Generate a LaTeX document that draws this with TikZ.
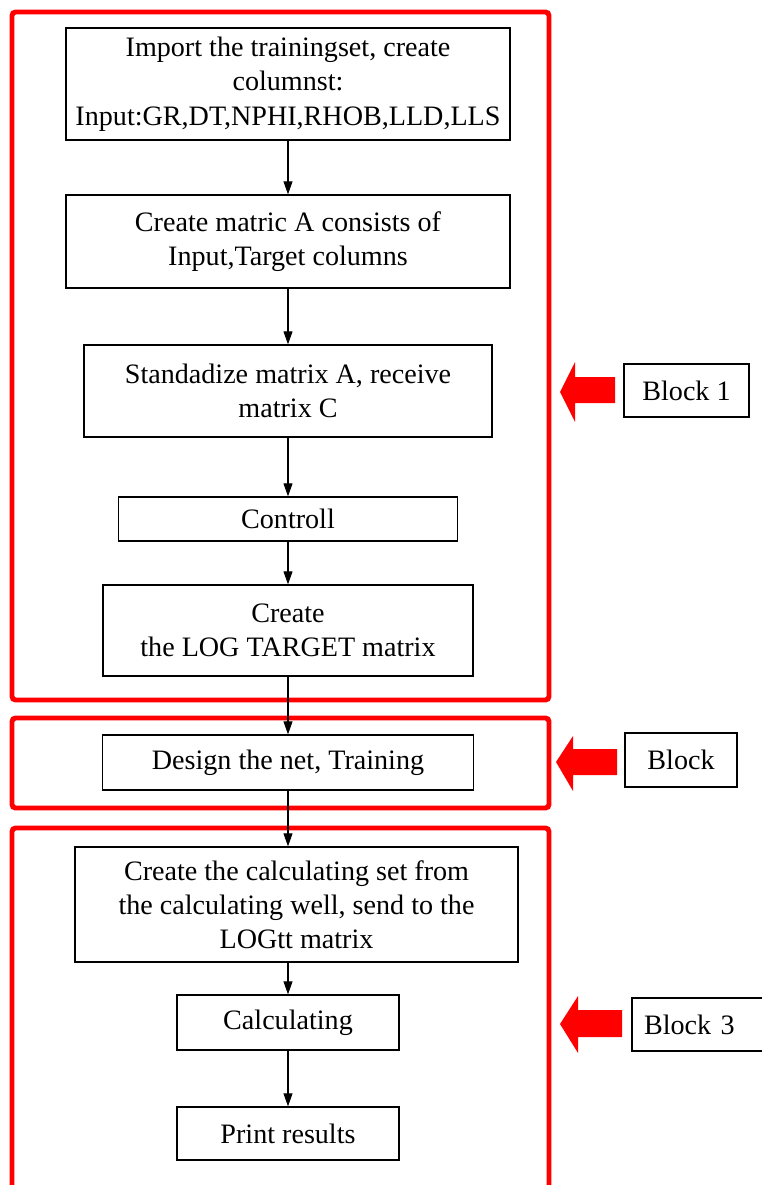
\documentclass[tikz,border=0pt]{standalone}
\usepackage{fontspec}
\setmainfont{Liberation Serif}
\usetikzlibrary{arrows.meta,positioning}

\tikzset{
  stepbox/.style={draw, line width=0.8pt, align=center, inner sep=2pt,
    font=\fontsize{16}{19.5}\selectfont},
  blocklabel/.style={draw, line width=0.8pt, inner sep=2pt,
    font=\fontsize{16}{19.5}\selectfont},
  redframe/.style={draw=red, line width=2.8pt, rounded corners=2pt},
  flow/.style={-{Triangle[length=2.6mm,width=1.8mm]}, line width=0.6pt},
}

\begin{document}
\begin{tikzpicture}[x=0.02cm,y=-0.02cm]
\useasboundingbox (0,0) rectangle (761,1185);

% red frames round the three blocks
\draw[redframe] (12,12) rectangle (549,700);
\draw[redframe] (12,718) rectangle (549,808);
\draw[redframe] (12,828) rectangle (549,1200);

% block 1
\node[stepbox, minimum width=8.88cm, minimum height=2.24cm] (import) at (288,84)
  {Import the trainingset, create\\columnst:\\ Input:GR,DT,NPHI,RHOB,LLD,LLS};
\node[stepbox, minimum width=8.88cm, minimum height=1.86cm] (matA) at (288,241.5)
  {Create matric A consists of\\Input,Target columns};
\node[stepbox, minimum width=8.16cm, minimum height=1.84cm] (stdA) at (288,391)
  {Standadize matrix A, receive\\matrix C};
\node[stepbox, minimum width=6.78cm, minimum height=0.88cm] (ctrl) at (288,519)
  {Controll};
\node[stepbox, minimum width=7.4cm, minimum height=1.82cm] (logt) at (288,630.5)
  {Create\\the LOG TARGET matrix};

% block 2
\node[stepbox, minimum width=7.42cm, minimum height=1.1cm] (net) at (288,762.5)
  {Design the net, Training};

% block 3
\node[stepbox, minimum width=8.86cm, minimum height=2.3cm] (cset) at (296.5,904.5)
  {Create the calculating set from\\the calculating well, send to the\\LOGtt matrix};
\node[stepbox, minimum width=4.44cm, minimum height=1.1cm] (calc) at (288,1022.5)
  {Calculating};
\node[stepbox, minimum width=4.44cm, minimum height=1.06cm] (print) at (288,1133.5)
  {Print results};

\draw[flow] (import) -- (matA);
\draw[flow] (matA) -- (stdA);
\draw[flow] (stdA) -- (ctrl);
\draw[flow] (ctrl) -- (logt);
\draw[flow] (logt) -- (net);
\draw[flow] (net.south) -- (net.south |- cset.north);
\draw[flow] (calc.north |- cset.south) -- (calc.north);
\draw[flow] (calc) -- (print);

% labels on the right
\node[blocklabel, minimum width=2.5cm, minimum height=1.06cm] (lab1) at (686.5,390.5) {Block 1};
\node[blocklabel, minimum width=2.24cm, minimum height=1.08cm] (lab2) at (681,760) {Block};
\node[blocklabel, minimum width=2.68cm, minimum height=1.06cm, text width=2.2cm] (lab3) at (699,1024.5) {Block 3};

% red pointers
\fill[red] (560,392) -- (575,362) -- (575,377) -- (615,377) -- (615,403) -- (575,403) -- (575,422) -- cycle;
\fill[red] (556,762) -- (573,736) -- (573,749) -- (617,749) -- (617,775) -- (573,775) -- (573,791) -- cycle;
\fill[red] (560,1024) -- (578,996) -- (578,1010) -- (622,1010) -- (622,1037) -- (578,1037) -- (578,1053) -- cycle;
\end{tikzpicture}
\end{document}
